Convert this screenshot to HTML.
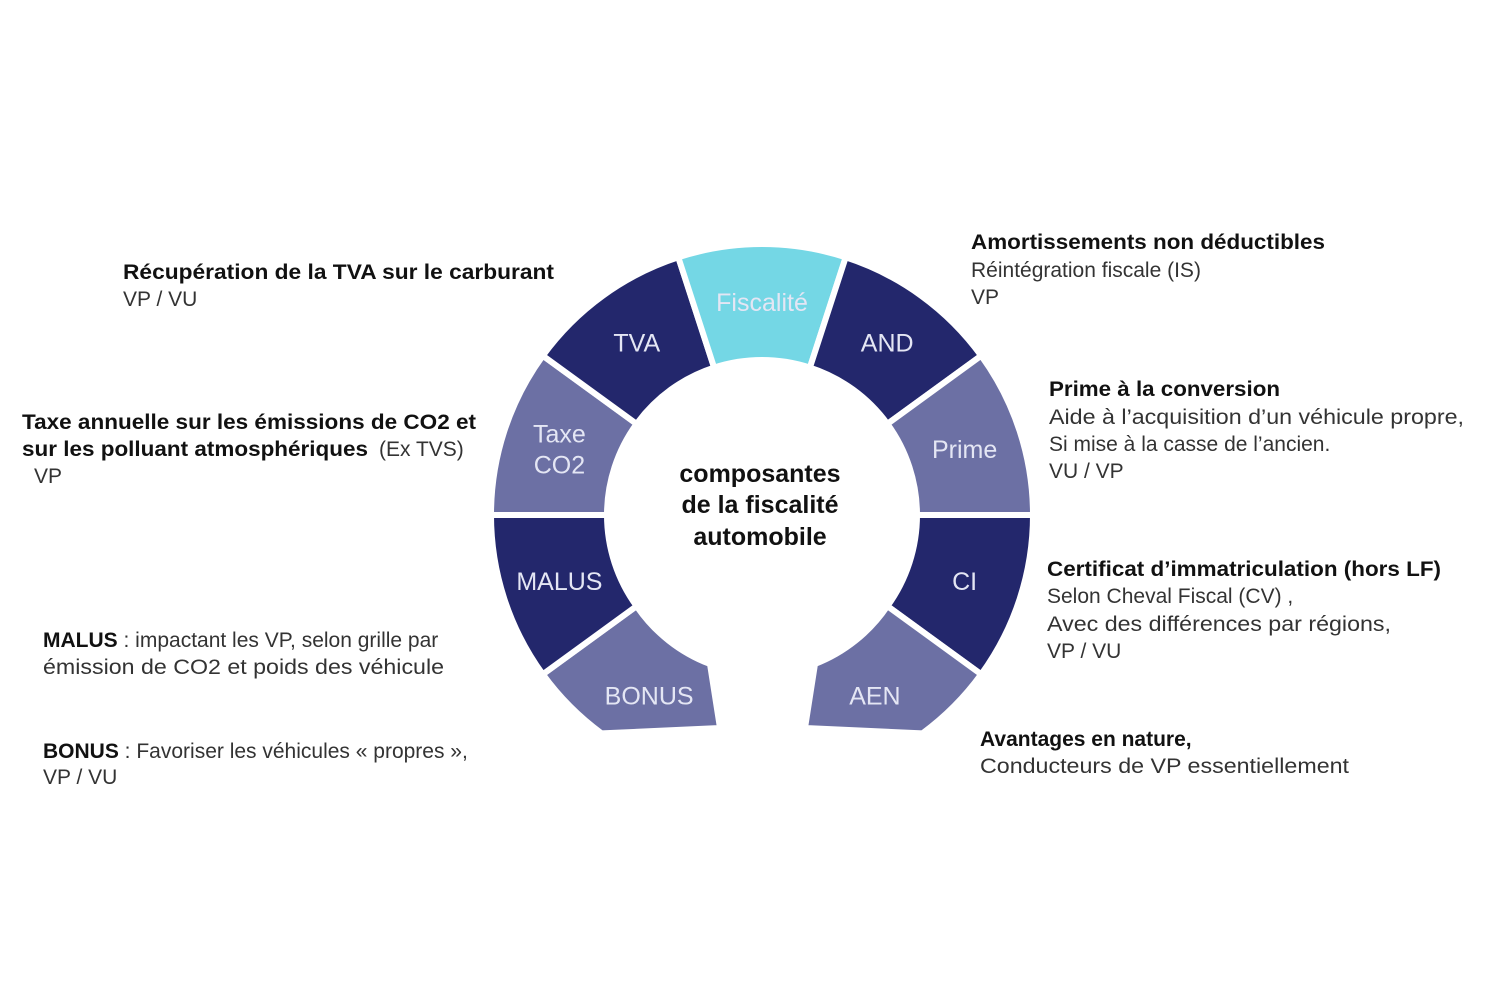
<!DOCTYPE html>
<html><head><meta charset="utf-8"><style>
html,body{margin:0;padding:0;background:#fff;}
svg{display:block;}
.seg-label{font-family:"Liberation Sans",sans-serif;font-size:25px;fill:#e4e6f4;text-anchor:middle;}
.b{font-family:"Liberation Sans",sans-serif;font-size:21px;font-weight:bold;fill:#111;}
.n{font-family:"Liberation Sans",sans-serif;font-size:21px;fill:#333;}
.c{font-family:"Liberation Sans",sans-serif;font-size:25px;font-weight:bold;fill:#111;text-anchor:middle;}
</style></head><body>
<svg id="chart" width="1500" height="1000" viewBox="0 0 1500 1000">
<g id="ring"></g>
<g>
<text class="c" x="760" y="482">composantes</text>
<text class="c" x="760" y="513">de la fiscalité</text>
<text class="c" x="760" y="545">automobile</text>
</g>
<g>
<text class="b" x="123" y="279" textLength="431" lengthAdjust="spacingAndGlyphs">Récupération de la TVA sur le carburant</text>
<text class="n" x="123" y="306">VP / VU</text>
</g>
<g>
<text class="b" x="22" y="429" textLength="454" lengthAdjust="spacingAndGlyphs">Taxe annuelle sur les émissions de CO2 et</text>
<text class="b" x="22" y="456" textLength="346" lengthAdjust="spacingAndGlyphs">sur les polluant atmosphériques</text>
<text class="n" x="379" y="456">(Ex TVS)</text>
<text class="n" x="34" y="483">VP</text>
</g>
<g>
<text x="43" y="647"><tspan class="b">MALUS</tspan><tspan class="n"> : impactant les VP,  selon grille par</tspan></text>
<text class="n" x="43" y="674" textLength="401" lengthAdjust="spacingAndGlyphs">émission de CO2 et poids des véhicule</text>
</g>
<g>
<text x="43" y="758"><tspan class="b">BONUS</tspan><tspan class="n"> : Favoriser les véhicules « propres »,</tspan></text>
<text class="n" x="43" y="784">VP / VU</text>
</g>
<g>
<text class="b" x="971" y="249" textLength="354" lengthAdjust="spacingAndGlyphs">Amortissements non déductibles</text>
<text class="n" x="971" y="277">Réintégration fiscale (IS)</text>
<text class="n" x="971" y="304">VP</text>
</g>
<g>
<text class="b" x="1049" y="396" textLength="231" lengthAdjust="spacingAndGlyphs">Prime à la conversion</text>
<text class="n" x="1049" y="424" textLength="415" lengthAdjust="spacingAndGlyphs">Aide à l’acquisition d’un véhicule propre,</text>
<text class="n" x="1049" y="451">Si mise à la casse de l’ancien.</text>
<text class="n" x="1049" y="478">VU / VP</text>
</g>
<g>
<text class="b" x="1047" y="576" textLength="394" lengthAdjust="spacingAndGlyphs">Certificat d’immatriculation (hors LF)</text>
<text class="n" x="1047" y="603">Selon Cheval Fiscal (CV) ,</text>
<text class="n" x="1047" y="631" textLength="344" lengthAdjust="spacingAndGlyphs">Avec des différences par régions,</text>
<text class="n" x="1047" y="658">VP / VU</text>
</g>
<g>
<text class="b" x="980" y="746">Avantages en nature,</text>
<text class="n" x="980" y="773" textLength="369" lengthAdjust="spacingAndGlyphs">Conducteurs de VP essentiellement</text>
</g>
</svg>
<script>
const segNames = ["CI","AEN","BONUS","MALUS","Taxe CO2","TVA","Fiscalité","AND","Prime"];
const segStartDeg = [0,36,108,144,180,216,252,288,324];
const segColors = ["#23276c","#6c70a4","#6c70a4","#23276c","#6c70a4","#23276c","#74d7e5","#23276c","#6c70a4"];
const CX=762, CY=515, R=271, r=155, SPAN=36;
const ns="http://www.w3.org/2000/svg";
const ring=document.getElementById('ring');
function pt(rad,deg){const a=deg*Math.PI/180;return [CX+rad*Math.cos(a),CY+rad*Math.sin(a)];}
function f(p){return p[0].toFixed(1)+","+p[1].toFixed(1);}
segNames.forEach((name,i)=>{
  const a0=segStartDeg[i], a1=a0+SPAN;
  let d;
  if(name==="BONUS"){
    const o1=pt(R,a1), i1=pt(r,a1);
    d="M"+f(pt(R,a0+18.3))+" L"+(CX-42)+","+(CY+213)+" L"+(CX-52)+","+(CY+149)+" A"+r+","+r+" 0 0 1 "+f(i1)+" L"+f(o1)+" A"+R+","+R+" 0 0 0 "+f(pt(R,a0+18.3))+"Z";
  } else if(name==="AEN"){
    const o0=pt(R,a0), i0=pt(r,a0);
    d="M"+f(o0)+" A"+R+","+R+" 0 0 1 "+f(pt(R,a1-18.3))+" L"+(CX+43)+","+(CY+213)+" L"+(CX+53)+","+(CY+149)+" A"+r+","+r+" 0 0 0 "+f(i0)+"Z";
  } else {
    d="M"+f(pt(R,a0))+" A"+R+","+R+" 0 0 1 "+f(pt(R,a1))+" L"+f(pt(r,a1))+" A"+r+","+r+" 0 0 0 "+f(pt(r,a0))+"Z";
  }
  const p=document.createElementNS(ns,'path');
  p.setAttribute('d',d);
  p.setAttribute('fill',segColors[i]);
  p.setAttribute('stroke','#fff');
  p.setAttribute('stroke-width','6');
  p.setAttribute('stroke-linejoin','miter');
  
  
  ring.appendChild(p);
  const mid=(name==="BONUS"||name==="AEN")?(a0+a1)/2+(name==="BONUS"?-4:4):(a0+a1)/2;
  const lp=pt((R+r)/2,mid);
  const t=document.createElementNS(ns,'text');
  t.setAttribute('class','seg-label');
  
  
  const lines=name==="Taxe CO2"?["Taxe","CO2"]:[name];
  lines.forEach((ln,k)=>{
    const ts=document.createElementNS(ns,'tspan');
    ts.setAttribute('x',lp[0].toFixed(1));
    ts.setAttribute('y',(lp[1]+9+(k-(lines.length-1)/2)*31).toFixed(1));
    ts.textContent=ln;
    t.appendChild(ts);
  });
  ring.appendChild(t);
});
</script>
</body></html>
